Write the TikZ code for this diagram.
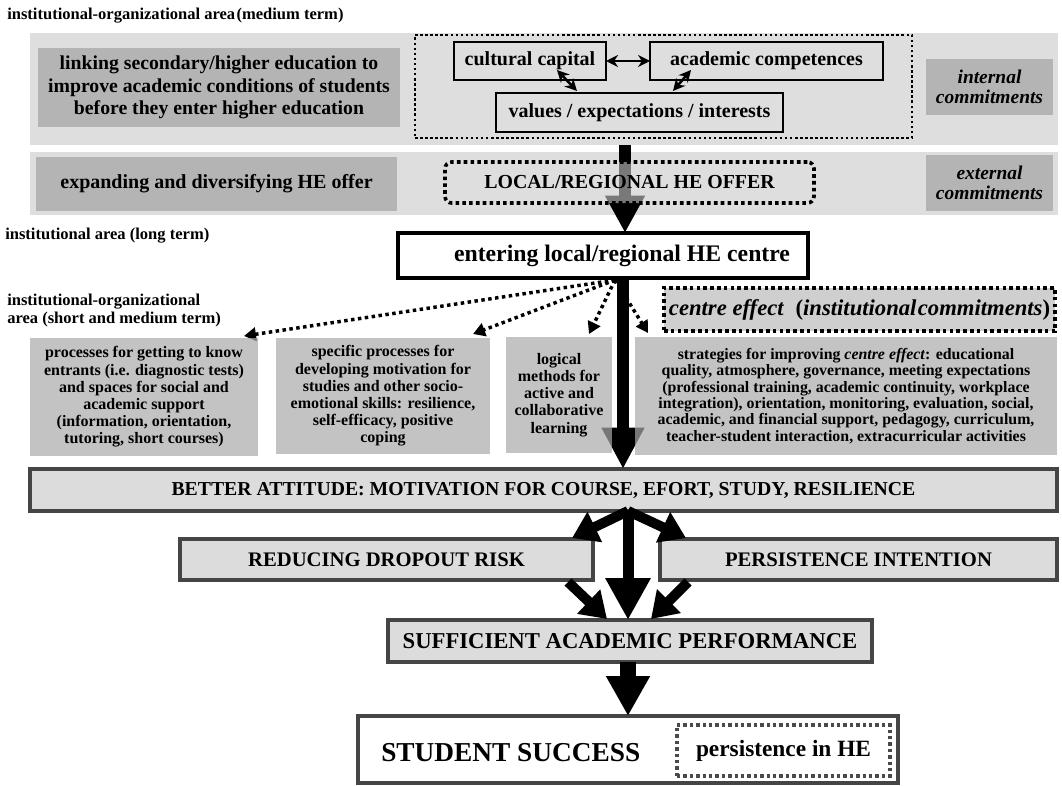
\documentclass[tikz,border=0pt]{standalone}
\usepackage{fontspec}
\setmainfont{Liberation Serif}
\usetikzlibrary{arrows.meta,calc}
\definecolor{band}{HTML}{DEDEDE}
\definecolor{dbox}{HTML}{B4B4B4}
\definecolor{rbox}{HTML}{AAAAAA}
\definecolor{ceff}{HTML}{CFCFCF}
\definecolor{lbox}{HTML}{DCDCDC}
\definecolor{edge}{HTML}{454545}
\definecolor{dotgrey}{HTML}{4A4A4A}
\newcommand\fs[2]{\fontsize{#1}{#2}\selectfont\bfseries}
\tikzset{
  rect/.style n args={4}{rectangle, inner sep=0pt, outer sep=0pt,
     minimum width={(#3-#1)*0.75pt}, minimum height={(#4-#2)*0.75pt},
     at={({(#1+#3)/2},{(#2+#4)/2})}},
  lbl/.style={inner sep=0pt, font=\fs{12.4}{13.5}},
  area/.style={fill=band, draw=none},
  greybox/.style={fill=dbox, draw=none, align=center},
  rowbox/.style={fill=rbox, fill opacity=0.7, text opacity=1, draw=none, align=center, font=\fs{12}{12.9}},
  smallbox/.style={draw=black, line width=1.1pt, font=\fs{15}{17}},
  dotbox/.style={draw=black, line width=1.9pt, dash pattern=on 1.9pt off 1.9pt},
  thickdot/.style={draw=black, line width=2.7pt, dash pattern=on 2.7pt off 2.4pt},
  flowbox/.style={fill=lbox, draw=edge, line width=2.6pt, align=center},
  smallarrow/.style={line width=1.9pt, {Stealth[length=9pt,width=9pt]}-{Stealth[length=9pt,width=9pt]}},
  dotarrow/.style={line width=2.6pt, dash pattern=on 2.6pt off 2.6pt, -{Triangle[length=9pt,width=10pt]}},
  bigarrow/.style={line width=9pt, -{Triangle[length=28pt,width=28pt]}},
  midarrow/.style={line width=8.25pt, -{Triangle[length=31.5pt,width=32pt]}},
  sidearrow/.style={line width=7.5pt, -{Triangle[length=19pt,width=24pt]}},
  lowarrow/.style={line width=11.5pt, -{Triangle[length=30pt,width=31pt]}},
}
\begin{document}
\begin{tikzpicture}[x=0.75pt,y=-0.75pt]
\useasboundingbox (0,0) rectangle (1062,785);

% area labels
\node[lbl, anchor=west] (t1) at (7,16) {institutional-organizational area\kern1pt(medium term)};
\node[lbl, anchor=west] (t2) at (5,236) {institutional area (long term)};
\node[lbl, anchor=west, align=left] (t3) at (7,311) {institutional-organizational\\area (short and medium term)};

% bands
\node[rect={30}{33}{1058}{145}, area] (band1) {};
\node[rect={30}{152}{1058}{215}, area] (band2) {};

\node[rect={38}{48}{400}{127}, greybox, font=\fs{14.8}{16.9}] (link) {linking secondary/higher education to\\improve academic conditions of students\\before they enter higher education};
\node[rect={36}{157}{397}{211}, greybox, font=\fs{15}{16.9}] (expand) {expanding and diversifying HE offer};
\node[rect={926}{59}{1053}{115}, greybox, font=\fs{14.6}{15}\itshape] (intc) {internal\\commitments};
\node[rect={926}{155}{1053}{211}, greybox, font=\fs{14.6}{15}\itshape] (extc) {external\\commitments};

\node[rect={415}{35}{912}{138}, dotbox] (inner) {};
\node[rect={454}{42}{606}{80}, smallbox] (cc) {cultural capital};
\node[rect={650}{42}{883}{80}, smallbox] (ac) {academic competences};
\node[rect={496}{93}{783}{132}, smallbox] (val) {values / expectations / interests};

\draw[smallarrow] (cc.east) -- (ac.west);
\draw[smallarrow] ($(cc.south)+(27,-10)$) -- ($(val.north)+(-62.5,-2)$);
\draw[smallarrow] ($(ac.south)+(-75.5,-10)$) -- ($(val.north)+(33.5,-2)$);

% entering box
\node[rect={398}{233}{808}{278}, draw=black, line width=2.6pt, fill=white] (enter) {};
\node[inner sep=0pt, font=\fs{17.8}{20}] (entert) at (622,256) {entering local/regional HE centre};

% arrow from band to entering box
\coordinate (ax) at (625,0);
\draw[bigarrow] (band1.south -| ax) -- (enter.north -| ax);
\node[rect={445}{162}{814}{203}, thickdot, rounded corners=5pt, fill=band, fill opacity=0.55, text opacity=1, font=\fs{14.9}{16}] (local) {LOCAL/REGIONAL HE OFFER};

% dotted fan arrows
\coordinate (fan) at (615,280);
\coordinate (d1) at (244,336);
\coordinate (d2) at (473,334);
\coordinate (d3) at (589,334);
\coordinate (d4) at (648,333);
\draw[dotarrow] (fan) -- (d1);
\draw[dotarrow] (fan) -- (d2);
\draw[dotarrow] (fan) -- (d3);
\draw[dotarrow] (fan) -- (d4);

\node[rect={664}{288}{1055}{331}, thickdot, fill=ceff, font=\fs{17}{18}] (ceffect) {\textit{centre effect}\ \ (\textit{institutional\kern1pt commitments})};

% lower flow boxes
\node[rect={30}{469}{1057}{511}, flowbox, font=\fs{14.8}{16}] (better) {BETTER ATTITUDE: MOTIVATION FOR COURSE, EFORT, STUDY, RESILIENCE};
\node[rect={180}{539}{593}{580}, flowbox, font=\fs{15.5}{17}] (reduce) {REDUCING DROPOUT RISK};
\node[rect={660}{539}{1057}{580}, flowbox, font=\fs{15.5}{17}] (persint) {PERSISTENCE INTENTION};
\node[rect={388}{620}{872}{662}, flowbox, font=\fs{17}{19}] (suff) {SUFFICIENT ACADEMIC PERFORMANCE};
\node[rect={358}{716}{898}{783}, draw=edge, line width=2.6pt, fill=white] (stud) {};
\node[inner sep=0pt, anchor=west, font=\fs{20.5}{22}] (studt) at (381,753) {STUDENT SUCCESS};
\node[rect={677}{725}{890}{776}, draw=dotgrey, line width=2.5pt, dash pattern=on 2.5pt off 2.3pt, font=\fs{17.5}{19}] (persHE) {persistence in HE};

% arrow from entering box to better attitude
\coordinate (bx) at (623,0);
\draw[bigarrow, -{Triangle[length=31pt,width=30pt]}] (enter.south -| bx) -- (better.north -| bx);

% row boxes (over the arrow)
\node[rect={30}{338}{258}{456}, rowbox] (rowA) {processes for getting to know\\entrants (i.e. diagnostic tests)\\and spaces for social and\\academic support\\(information, orientation,\\tutoring, short courses)};
\node[rect={276}{338}{490}{454}, rowbox] (rowB) {specific processes for\\developing motivation for\\studies and other socio-\\emotional skills: resilience,\\self-efficacy, positive\\coping};
\node[rect={506}{337}{612}{453}, rowbox] (rowC) {logical\\methods for\\active and\\collaborative\\learning};
\node[rect={635}{337}{1057}{455}, rowbox, font=\fs{11.9}{12.3}] (rowD) {strategies for improving \textit{centre effect}: educational\\quality, atmosphere, governance, meeting expectations\\(professional training, academic continuity, workplace\\integration), orientation, monitoring, evaluation, social,\\academic, and financial support, pedagogy, curriculum,\\teacher-student interaction, extracurricular activities};

% flow arrows
\coordinate (cx) at (628,0);
\draw[midarrow] (better.south -| cx) -- (suff.north -| cx);
\draw[sidearrow] (better.south -| cx) -- ($(reduce.north east)+(-21,-1)$);
\draw[sidearrow] (better.south -| cx) -- ($(persint.north west)+(26,-1)$);
\draw[sidearrow] ($(reduce.south east)+(-25,2)$) -- ($(suff.north)+(-23,-1)$);
\draw[sidearrow] ($(persint.south west)+(28,2)$) -- ($(suff.north)+(21,-1)$);
\draw[lowarrow] (suff.south -| cx) -- (stud.north -| cx);
\end{tikzpicture}
\end{document}
